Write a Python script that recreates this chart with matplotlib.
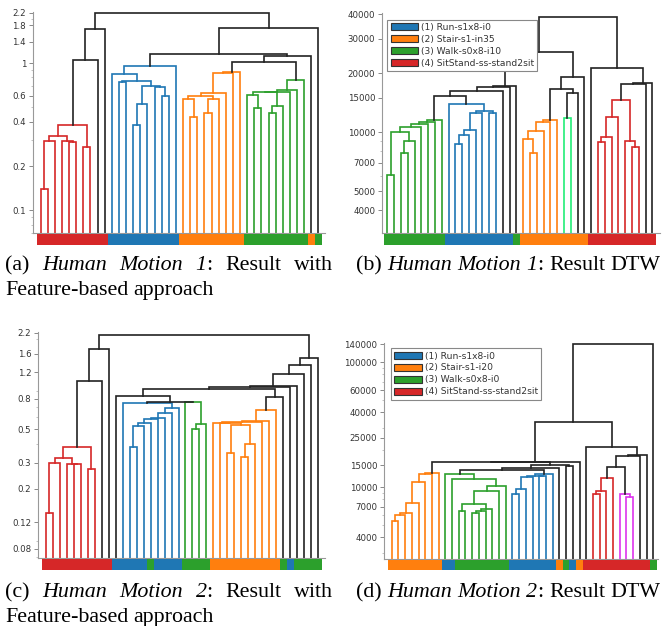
import matplotlib
matplotlib.use('Agg')
import matplotlib.pyplot as plt
import matplotlib.ticker as mticker
from matplotlib.patches import Patch

W, H = 670, 626

CLASS_COLORS = {1: '#1f77b4', 2: '#ff7f0e', 3: '#2ca02c', 4: '#d62728'}
LINK_COLORS = {'r': '#d62728', 'b': '#1f77b4', 'o': '#ff7f0e', 'g': '#2ca02c',
               'k': '#222222', 'l': '#22ee77', 'm': '#dd33ee'}

# ---- (a) Human Motion 1, feature-based ----
labels_a = [4]*10 + [1]*10 + [2]*9 + [3]*9 + [2, 3]
links_a = [  # (left, right, height, colour); node k gets id 40+k
    (0, 1, 0.139, 'r'), (40, 2, 0.297, 'r'), (4, 5, 0.29, 'r'), (3, 42, 0.295, 'r'),
    (41, 43, 0.321, 'r'), (6, 7, 0.27, 'r'), (44, 45, 0.38, 'r'), (46, 8, 1.05, 'k'),
    (47, 9, 1.70, 'k'),
    (13, 14, 0.38, 'b'), (49, 15, 0.527, 'b'), (17, 18, 0.597, 'b'), (16, 51, 0.69, 'b'),
    (50, 52, 0.70, 'b'), (11, 12, 0.745, 'b'), (54, 53, 0.755, 'b'), (10, 55, 0.84, 'b'),
    (56, 19, 0.96, 'b'),
    (21, 22, 0.43, 'o'), (20, 58, 0.567, 'o'), (23, 24, 0.455, 'o'), (60, 25, 0.567, 'o'),
    (59, 61, 0.597, 'o'), (62, 26, 0.63, 'o'), (63, 27, 0.85, 'o'), (64, 28, 0.873, 'o'),
    (30, 31, 0.498, 'g'), (29, 66, 0.607, 'g'), (32, 33, 0.455, 'g'), (68, 34, 0.51, 'g'),
    (67, 69, 0.635, 'g'), (70, 35, 0.64, 'g'), (71, 36, 0.656, 'g'), (72, 37, 0.767, 'g'),
    (65, 73, 1.01, 'k'), (74, 38, 1.12, 'k'), (57, 75, 1.16, 'k'), (76, 39, 1.74, 'k'),
    (48, 77, 2.17, 'k'),
]
yticks_a = [0.1, 0.2, 0.4, 0.6, 1, 1.4, 1.8, 2.2]
yticklabels_a = ['0.1', '0.2', '0.4', '0.6', '1', '1.4', '1.8', '2.2']

# ---- (b) Human Motion 1, DTW ----
labels_b = [3]*9 + [1]*10 + [3] + [2]*10 + [4]*10
links_b = [
    (0, 1, 6050, 'g'), (2, 3, 7870, 'g'), (41, 4, 9030, 'g'), (40, 42, 10000, 'g'),
    (43, 5, 10600, 'g'), (44, 6, 11000, 'g'), (45, 7, 11350, 'g'), (46, 8, 11550, 'g'),
    (10, 11, 8720, 'b'), (48, 12, 9730, 'b'), (49, 13, 10280, 'b'), (50, 14, 12500, 'b'),
    (15, 16, 12600, 'b'), (51, 52, 12850, 'b'), (9, 53, 13900, 'b'),
    (47, 54, 15400, 'k'), (55, 17, 16300, 'k'), (56, 18, 16990, 'k'), (57, 19, 17250, 'k'),
    (21, 22, 7870, 'o'), (20, 59, 9210, 'o'), (60, 23, 10120, 'o'), (61, 24, 11250, 'o'),
    (62, 25, 11560, 'o'), (26, 27, 11790, 'l'), (64, 28, 15800, 'k'), (63, 65, 16600, 'k'),
    (66, 29, 19250, 'k'), (58, 67, 25800, 'k'),
    (31, 32, 8890, 'r'), (69, 33, 9430, 'r'), (70, 34, 12020, 'r'), (36, 37, 8450, 'r'),
    (35, 72, 9030, 'r'), (71, 73, 14630, 'r'), (74, 38, 17660, 'k'), (75, 39, 17950, 'k'),
    (30, 76, 21240, 'k'), (68, 77, 39000, 'k'),
]
yticks_b = [4000, 5000, 7000, 10000, 15000, 20000, 30000, 40000]
legend_b = ['(1) Run-s1x8-i0', '(2) Stair-s1-in35', '(3) Walk-s0x8-i10', '(4) SitStand-ss-stand2sit']

# ---- (c) Human Motion 2, feature-based ----
labels_c = [4]*10 + [1]*5 + [3] + [1]*4 + [3]*4 + [2]*10 + [3, 1] + [3]*4
links_c = [
    (0, 1, 0.139, 'r'), (40, 2, 0.296, 'r'), (4, 5, 0.292, 'r'), (3, 42, 0.293, 'r'),
    (41, 43, 0.32, 'r'), (6, 7, 0.27, 'r'), (44, 45, 0.379, 'r'), (46, 8, 1.05, 'k'),
    (47, 9, 1.71, 'k'),
    (12, 13, 0.379, 'b'), (49, 14, 0.526, 'b'), (50, 15, 0.553, 'b'), (51, 16, 0.589, 'b'),
    (52, 17, 0.597, 'b'), (53, 18, 0.646, 'b'), (54, 19, 0.697, 'b'), (11, 55, 0.745, 'b'),
    (21, 22, 0.50, 'g'), (57, 23, 0.54, 'g'), (20, 58, 0.756, 'g'),
    (56, 59, 0.764, 'k'), (10, 60, 0.838, 'k'),
    (26, 27, 0.346, 'o'), (28, 29, 0.325, 'o'), (63, 30, 0.397, 'o'), (62, 64, 0.534, 'o'),
    (25, 65, 0.548, 'o'), (24, 66, 0.55, 'o'), (67, 31, 0.563, 'o'), (68, 32, 0.571, 'o'),
    (69, 33, 0.672, 'o'),
    (70, 34, 0.825, 'k'), (61, 71, 0.933, 'k'), (72, 35, 0.958, 'k'), (73, 36, 0.967, 'k'),
    (74, 37, 1.164, 'k'), (75, 38, 1.34, 'k'), (76, 39, 1.50, 'k'), (48, 77, 2.13, 'k'),
]
yticks_c = [0.08, 0.12, 0.2, 0.3, 0.5, 0.8, 1.2, 1.6, 2.2]
yticklabels_c = ['0.08', '0.12', '0.2', '0.3', '0.5', '0.8', '1.2', '1.6', '2.2']

# ---- (d) Human Motion 2, DTW ----
labels_d = [2]*8 + [1]*2 + [3]*8 + [1]*7 + [2, 3, 1, 2] + [4]*10 + [3]
links_d = [
    (0, 1, 5350, 'o'), (40, 2, 6000, 'o'), (41, 3, 6270, 'o'), (42, 4, 7540, 'o'),
    (43, 5, 11100, 'o'), (44, 6, 12860, 'o'), (45, 7, 13100, 'o'),
    (10, 11, 6500, 'g'), (12, 13, 6270, 'g'), (48, 14, 6500, 'g'), (49, 15, 6750, 'g'),
    (47, 50, 7400, 'g'), (51, 16, 9400, 'g'), (52, 17, 10300, 'g'), (9, 53, 11580, 'g'),
    (8, 54, 12860, 'g'),
    (18, 19, 8790, 'b'), (56, 20, 9640, 'b'), (57, 21, 12200, 'b'), (22, 23, 12300, 'b'),
    (58, 59, 12400, 'b'), (60, 24, 12800, 'b'),
    (55, 61, 13760, 'k'), (62, 25, 14370, 'k'), (26, 27, 14900, 'k'), (63, 64, 14950, 'k'),
    (46, 65, 15850, 'k'), (66, 28, 15900, 'k'),
    (30, 31, 8840, 'r'), (68, 32, 9400, 'r'), (69, 33, 11950, 'r'), (35, 36, 8320, 'm'),
    (34, 71, 8840, 'm'), (70, 72, 14630, 'k'), (73, 37, 17800, 'k'), (74, 38, 18130, 'k'),
    (29, 75, 21150, 'k'), (67, 76, 33100, 'k'), (77, 39, 140000, 'k'),
]
yticks_d = [4000, 7000, 10000, 15000, 25000, 40000, 60000, 100000, 140000]
legend_d = ['(1) Run-s1x8-i0', '(2) Stair-s1-i20', '(3) Walk-s0x8-i0', '(4) SitStand-ss-stand2sit']


fig = plt.figure(figsize=(W / 100, H / 100), dpi=100)


def box(l, t, r, b):
    return [l / W, 1 - b / H, (r - l) / W, (b - t) / H]


def panel(rect, strip, labels, links, ylim, xlim, yticks, yticklabels, legend=None, leg_at=None):
    n = len(labels)
    ax = fig.add_axes(box(*rect))
    xs = list(range(n))
    ys = [ylim[0]] * n
    for a, b, h, c in links:
        ax.plot([xs[a], xs[a], xs[b], xs[b]], [ys[a], h, h, ys[b]],
                color=LINK_COLORS[c], lw=1.2, solid_joinstyle='miter')
        xs.append((xs[a] + xs[b]) / 2)
        ys.append(h)
    ax.set_yscale('log')
    ax.set_ylim(*ylim)
    ax.set_xlim(*xlim)
    ax.set_xticks([])
    ax.yaxis.set_major_locator(mticker.FixedLocator(yticks))
    ax.yaxis.set_major_formatter(mticker.FixedFormatter(yticklabels))
    ax.yaxis.set_minor_locator(mticker.LogLocator(subs=range(2, 10)))
    ax.yaxis.set_minor_formatter(mticker.NullFormatter())
    ax.tick_params(axis='y', which='major', labelsize=6.2, labelcolor='#333333',
                   color='#888888', length=3, width=0.7, pad=2)
    ax.tick_params(axis='y', which='minor', color='#aaaaaa', length=1.8, width=0.5)
    for s in ['top', 'right']:
        ax.spines[s].set_visible(False)
    for s in ['left', 'bottom']:
        ax.spines[s].set_color('#999999')
        ax.spines[s].set_linewidth(0.8)
    if legend:
        handles = [Patch(facecolor=CLASS_COLORS[k + 1], edgecolor='#333333', lw=0.8, label=lab)
                   for k, lab in enumerate(legend)]
        lg = ax.legend(handles=handles, loc='upper left', bbox_to_anchor=leg_at, fontsize=6.6,
                       handlelength=3.0, handleheight=0.8, labelspacing=0.32, borderpad=0.35,
                       handletextpad=0.3, borderaxespad=0, fancybox=False, framealpha=1,
                       edgecolor='#888888')
        lg.get_frame().set_linewidth(0.8)
        for t in lg.get_texts():
            t.set_color('#333333')

    axs = fig.add_axes(box(*strip))
    axs.bar(range(n), 1, width=1.0, color=[CLASS_COLORS[k] for k in labels], linewidth=0)
    axs.set_xlim(*xlim)
    axs.set_ylim(0, 1)
    axs.axis('off')


panel((33, 11.7, 325, 233.3), (33, 234.3, 325, 245), labels_a, links_a,
      (0.07, 2.23), (-1.06, 39.92), yticks_a, yticklabels_a)
panel((382.3, 13.3, 660, 233.3), (382.3, 234.3, 660, 245), labels_b, links_b,
      (3050, 40550), (-0.75, 40.13), yticks_b, [str(v) for v in yticks_b],
      legend_b, (0.018, 0.97))
panel((38.3, 331.7, 325, 558.3), (38.3, 559.3, 325, 570), labels_c, links_c,
      (0.069, 2.237), (-1.07, 39.97), yticks_c, yticklabels_c)
panel((384.3, 342.7, 658, 559), (384.3, 559.7, 658, 570), labels_d, links_d,
      (2670, 143600), (-1.1, 39.7), yticks_d, [str(v) for v in yticks_d],
      legend_d, (0.025, 0.974))

# ---- captions (LaTeX-style, first line justified for a and c) ----
renderer = fig.canvas.get_renderer()
CAP_SIZE = 15.8


def caption_line(words, x0, y, x1=None):
    placed = []
    widths = []
    for word in words:
        segs = []
        w = 0
        for txt, it in word:
            t = fig.text(0, 0, txt, fontsize=CAP_SIZE, family='Liberation Serif',
                         style='italic' if it else 'normal', va='baseline', ha='left')
            tw = t.get_window_extent(renderer).width
            segs.append((t, w))
            w += tw
        placed.append(segs)
        widths.append(w)
    space = 0.25 * CAP_SIZE * 100 / 72
    if x1 is not None and len(words) > 1:
        space = (x1 - x0 - sum(widths)) / (len(words) - 1)
    x = x0
    for segs, w in zip(placed, widths):
        for t, off in segs:
            t.set_position(((x + off) / W, 1 - y / H))
        x += w + space


def hm(num):
    return [[('(%s)' % num[0], False)], [('Human', True)], [('Motion', True)],
            [(num[1], True), (':', False)], [('Result', False)]]


caption_line(hm(('a', '1')) + [[('with', False)]], 5, 270, 333)
caption_line([[('Feature-based', False)], [('approach', False)]], 5, 295)
caption_line(hm(('b', '1')) + [[('DTW', False)]], 356, 270)
caption_line(hm(('c', '2')) + [[('with', False)]], 5, 597, 333)
caption_line([[('Feature-based', False)], [('approach', False)]], 5, 622)
caption_line(hm(('d', '2')) + [[('DTW', False)]], 356, 597)

fig.savefig('out.png', dpi=100)
